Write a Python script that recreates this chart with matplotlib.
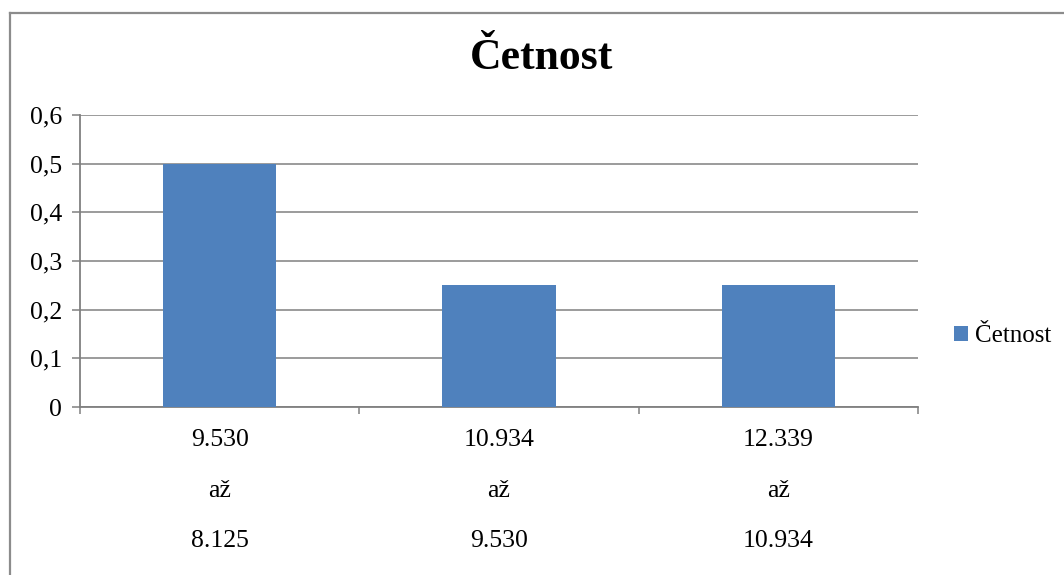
import numpy as np
import matplotlib.pyplot as plt
from matplotlib.lines import Line2D

plt.rcParams['font.family'] = ['Liberation Serif', 'DejaVu Serif']

# data
od = ['9.530', '10.934', '12.339']
do = ['8.125', '9.530', '10.934']
cetnost = [0.5, 0.25, 0.25]
labels = [a + '\naž\n' + b for a, b in zip(od, do)]

W, H = 1064, 575
fig = plt.figure(figsize=(W / 100, H / 100), dpi=100)
ax = fig.add_axes([80 / W, 1 - 407 / H, (918 - 80) / W, (407 - 115) / H])

x = np.arange(len(cetnost))
ax.bar(x, cetnost, width=0.405, color='#4f81bd', label='Četnost', zorder=3)

ax.set_xlim(-0.5, len(cetnost) - 0.5)
ax.set_ylim(0, 0.6)
yt = np.arange(0, 0.61, 0.1)
ax.set_yticks(yt)
ax.set_yticklabels(['0' if v == 0 else ('%.1f' % v).replace('.', ',') for v in yt])
ax.yaxis.grid(True, color='#808080', lw=1.1, zorder=0)

ax.set_xticks(x)
ax.set_xticklabels(labels, linespacing=2.68)
ax.set_xticks(np.arange(-0.5, len(cetnost)), minor=True)
ax.tick_params(axis='x', which='major', length=0, pad=16, labelsize=18.5)
ax.tick_params(axis='x', which='minor', length=5, color='#808080', width=1.1)
ax.tick_params(axis='y', length=6, color='#808080', width=1.1, labelsize=18.5, pad=7)

for s in ['top', 'right']:
    ax.spines[s].set_visible(False)
for s in ['left', 'bottom']:
    ax.spines[s].set_color('#808080')
    ax.spines[s].set_linewidth(1.3)

fig.text(542 / W, 1 - 58 / H, 'Četnost', ha='center', va='center',
         fontsize=31.5, fontweight='bold')

fig.legend(loc='center left', bbox_to_anchor=(954 / W, 1 - 336 / H),
           frameon=False, fontsize=18, handlelength=0.55, handleheight=0.55,
           handletextpad=0.3, borderpad=0, borderaxespad=0)

# chart border
fig.add_artist(Line2D([10 / W, 1], [1 - 13 / H, 1 - 13 / H], color='#8c8c8c', lw=1.6))
fig.add_artist(Line2D([10 / W, 10 / W], [0, 1 - 13 / H], color='#8c8c8c', lw=1.6))

fig.savefig('out.png', dpi=100)
